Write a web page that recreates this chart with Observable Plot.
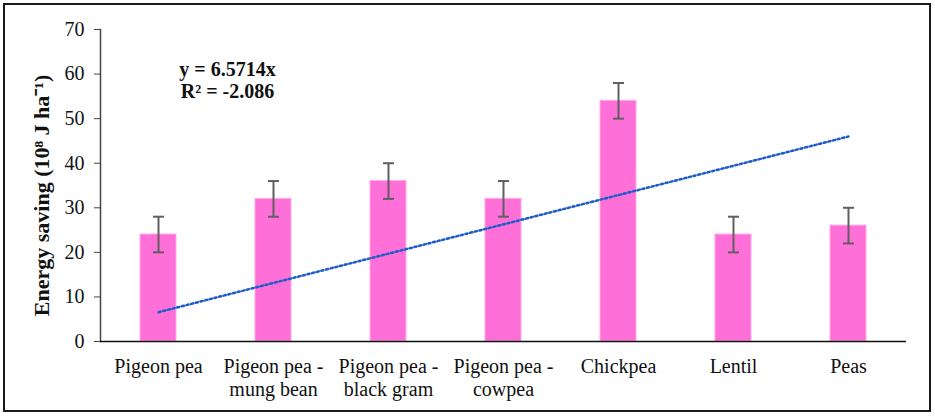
<!DOCTYPE html>
<html>
<head>
<meta charset="utf-8">
<script src="https://cdn.jsdelivr.net/npm/d3@7"></script>
<script src="https://cdn.jsdelivr.net/npm/@observablehq/plot@0.6"></script>
<style>
  html, body { margin: 0; padding: 0; background: #fff; }
  #wrap { position: relative; width: 935px; height: 417px; }
  #wrap svg, #wrap svg text { font-family: "Liberation Serif", "Times New Roman", serif !important; }
  #border { position: absolute; left: 3px; top: 3px; width: 924px; height: 405px; border: 2px solid #1a1a1a; pointer-events: none; }
</style>
</head>
<body>
<div id="wrap"><div id="border"></div></div>
<script>
const categories = ["Pigeon pea", "Pigeon pea - mung bean", "Pigeon pea - black gram", "Pigeon pea - cowpea", "Chickpea", "Lentil", "Peas"];
const tickLabels = ["Pigeon pea", "Pigeon pea -\nmung bean", "Pigeon pea -\nblack gram", "Pigeon pea -\ncowpea", "Chickpea", "Lentil", "Peas"];
const values = [24, 32, 36, 32, 54, 24, 26];
const errors = [4, 4, 4, 4, 4, 4, 4];
const trendCats = ["Pigeon pea", "Peas"];
const trendValues = [6.5714, 46.0];
const equation = ["y = 6.5714x", "R² = -2.086"];
const yLabel = "Energy saving (10⁸ J ha⁻¹)";

const data = categories.map((c, i) => ({cat: c, v: values[i], lo: values[i] - errors[i], hi: values[i] + errors[i]}));
const trend = trendCats.map((c, i) => ({cat: c, v: trendValues[i]}));
const labelOf = new Map(categories.map((c, i) => [c, tickLabels[i]]));

const cap = {draw(context) { context.moveTo(-5.5, 0); context.lineTo(5.5, 0); }};

const chart = Plot.plot({
  width: 935,
  height: 417,
  marginLeft: 100,
  marginRight: 29,
  marginTop: 29,
  marginBottom: 76,
  style: {fontSize: "20px", color: "#111", background: "transparent"},
  x: {domain: categories, paddingInner: 0.69, paddingOuter: 0.345, label: null},
  y: {domain: [0, 70], label: null},
  marks: [
    Plot.barY(data, {x: "cat", y: "v", fill: "#FF6FD8", stroke: "#FFA8EA", strokeWidth: 1}),
    Plot.ruleX(data, {x: "cat", y1: "lo", y2: "hi", stroke: "#5f5f5f", strokeWidth: 2}),
    Plot.dot(data, {x: "cat", y: "lo", symbol: cap, fill: "none", stroke: "#5f5f5f", strokeWidth: 2}),
    Plot.dot(data, {x: "cat", y: "hi", symbol: cap, fill: "none", stroke: "#5f5f5f", strokeWidth: 2}),
    Plot.line(trend, {x: "cat", y: "v", stroke: "#1f5cc8", strokeWidth: 2.5, strokeDasharray: "2.2,2.6"}),
    Plot.axisY({ticks: d3.range(0, 71, 10), tickSize: 6, tickPadding: 10, stroke: "#444", fontSize: 20, label: null}),
    Plot.frame({anchor: "left", stroke: "#444", strokeWidth: 1.5}),
    Plot.ruleY([0], {stroke: "#111", strokeWidth: 1.5}),
    Plot.axisX({tickSize: 0, tickPadding: 15, fontSize: 20, lineHeight: 1.15, tickFormat: d => labelOf.get(d), label: null}),
    Plot.text([yLabel], {text: d => d, frameAnchor: "left", textAnchor: "middle", rotate: -90, dx: -59, dy: 10, fontSize: 22, fontWeight: "bold", fill: "#111"}),
    Plot.text([equation.join("\n")], {text: d => d, frameAnchor: "top-left", textAnchor: "middle", dx: 127, dy: 50, fontSize: 20, fontWeight: "bold", fill: "#111", lineHeight: 1.1, lineAnchor: "middle"})
  ]
});
document.getElementById("wrap").prepend(chart);
</script>
</body>
</html>
